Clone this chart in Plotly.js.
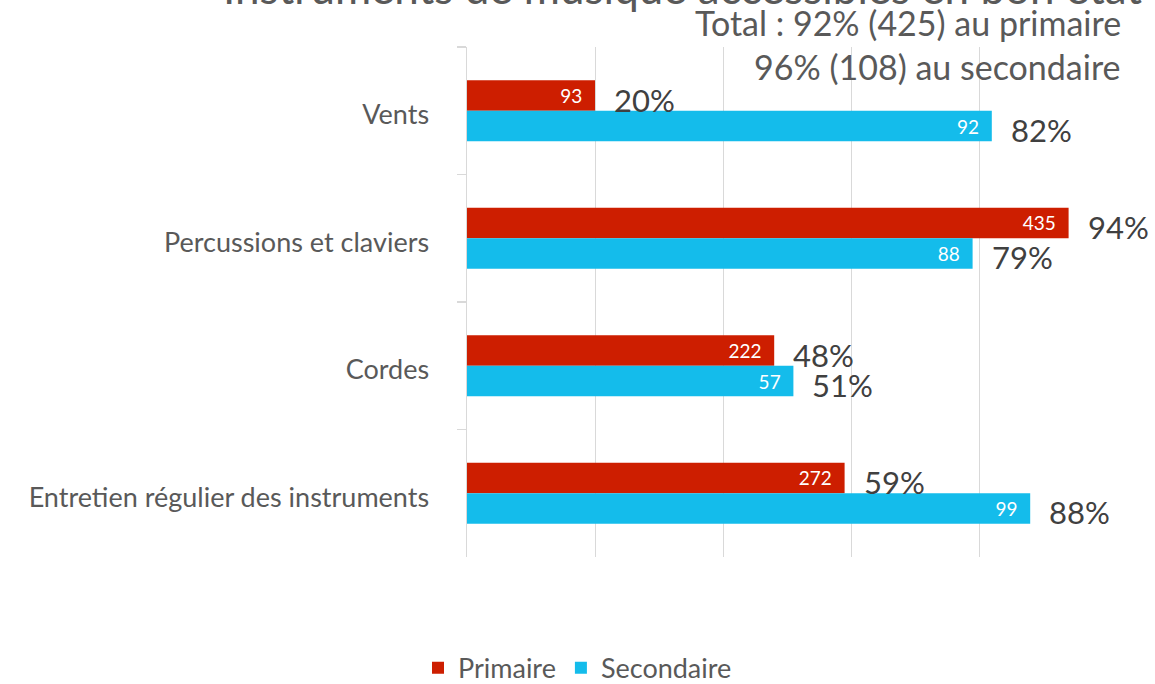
<!DOCTYPE html>
<html>
<head>
<meta charset="utf-8">
<script src="https://cdn.plot.ly/plotly-3.0.1.min.js"></script>
<style>html,body{margin:0;padding:0;background:#fff;}#chart{width:1155px;height:684px;}</style>
</head>
<body>
<div id="chart"></div>
<script>
const categories = ["Vents", "Percussions et claviers", "Cordes", "Entretien régulier des instruments"];
const primairePct = [20, 94, 48, 59];
const secondairePct = [82, 79, 51, 88];
const primaireN = [93, 435, 222, 272];
const secondaireN = [92, 88, 57, 99];
const titleText = "Instruments de musique accessibles en bon état";
const totalLines = ["Total : 92% (425) au primaire", "96% (108) au secondaire"];

const FONT = "Lato, 'Noto Sans', sans-serif";
const RED = "#CD1E00", BLUE = "#14BCEB";
const pad = "\u00a0\u00a0";

const traces = [
  {
    type: "bar", orientation: "h", name: "Primaire",
    y: categories, x: primairePct,
    text: primaireN.map(v => v + pad), textposition: "inside", insidetextanchor: "end",
    insidetextfont: {family: FONT, size: 19, color: "#ffffff"},
    marker: {color: RED}, hoverinfo: "none", cliponaxis: false
  },
  {
    type: "bar", orientation: "h", name: "Secondaire",
    y: categories, x: secondairePct,
    text: secondaireN.map(v => v + pad), textposition: "inside", insidetextanchor: "end",
    insidetextfont: {family: FONT, size: 19, color: "#ffffff"},
    marker: {color: BLUE}, hoverinfo: "none", cliponaxis: false
  }
];

const annotations = [];
categories.forEach((c, i) => {
  annotations.push({
    x: primairePct[i], y: c, xref: "x", yref: "y", text: primairePct[i] + "%",
    showarrow: false, xanchor: "left", yanchor: "middle",
    xshift: 17, yshift: 11,
    font: {family: FONT, size: 31, color: "#404040"}
  });
  annotations.push({
    x: secondairePct[i], y: c, xref: "x", yref: "y", text: secondairePct[i] + "%",
    showarrow: false, xanchor: "left", yanchor: "middle",
    xshift: 17, yshift: -19,
    font: {family: FONT, size: 31, color: "#404040"}
  });
});
annotations.push({
  x: 1.025, y: 1.049, xref: "paper", yref: "paper", text: totalLines[0],
  showarrow: false, xanchor: "right", yanchor: "middle",
  font: {family: FONT, size: 34, color: "#595959"}
});
annotations.push({
  x: 1.025, y: 0.961, xref: "paper", yref: "paper", text: totalLines[1],
  showarrow: false, xanchor: "right", yanchor: "middle",
  font: {family: FONT, size: 34, color: "#595959"}
});
annotations.push({
  x: 0.336, y: 1.063, xref: "paper", yref: "paper", text: titleText,
  showarrow: false, xanchor: "center", yanchor: "bottom",
  font: {family: FONT, size: 44, color: "#595959"}
});

const layout = {
  width: 1155, height: 684,
  margin: {l: 467, r: 48, t: 47, b: 127, pad: 0, autoexpand: false},
  paper_bgcolor: "#ffffff", plot_bgcolor: "#ffffff",
  font: {family: FONT, color: "#595959"},
  barmode: "group", bargap: 0.52, bargroupgap: 0,
  showlegend: true,
  legend: {
    orientation: "h", xref: "container", yref: "container",
    x: 0.5, xanchor: "center", y: 0.023, yanchor: "middle",
    font: {family: FONT, size: 27, color: "#595959"}, traceorder: "normal"
  },
  xaxis: {
    range: [0, 100], dtick: 20, showgrid: true, gridcolor: "#d9d9d9", gridwidth: 1,
    zeroline: false, showticklabels: false, showline: false, ticks: "", fixedrange: true
  },
  yaxis: {
    type: "category", autorange: "reversed",
    showline: true, linecolor: "#d9d9d9", linewidth: 1.5,
    ticks: "outside", tickson: "boundaries", ticklen: 9, tickcolor: "#d9d9d9", tickwidth: 1.5,
    ticklabelstandoff: 31, ticklabelshift: -4,
    tickfont: {family: FONT, size: 27, color: "#595959"},
    showgrid: false, zeroline: false, fixedrange: true
  },
  annotations: annotations
};

Plotly.newPlot("chart", traces, layout, {displayModeBar: false, staticPlot: true});
</script>
</body>
</html>
